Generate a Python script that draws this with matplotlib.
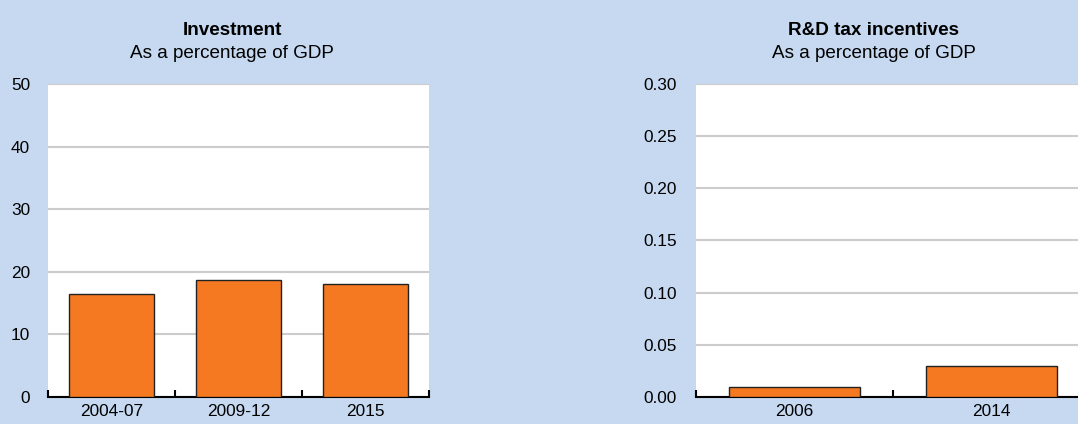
import matplotlib
matplotlib.use("Agg")
import matplotlib.pyplot as plt
import numpy as np

inv_categories = ["2004-07", "2009-12", "2015"]
inv_values = [16.5, 18.7, 18.1]
inv_ticks = [0, 10, 20, 30, 40, 50]

rd_categories = ["2006", "2014"]
rd_values = [0.01, 0.03]
rd_ticks = [0.00, 0.05, 0.10, 0.15, 0.20, 0.25, 0.30]

BG = "#C6D9F0"
ORANGE = "#F47920"
GRID = "#CCCCCC"

plt.rcParams['font.family'] = ['Liberation Sans', 'DejaVu Sans']

W, H = 1078, 424
fig = plt.figure(figsize=(W / 100, H / 100), dpi=100, facecolor=BG)

TICK_FS = 12.4
TITLE_FS = 13.6


def panel(rect, cats, vals, ticks, fmt, ypad):
    ax = fig.add_axes(rect)
    ax.set_facecolor("white")
    x = np.arange(len(cats))
    ax.bar(x, vals, width=0.67, color=ORANGE, edgecolor="#222222", linewidth=1.0, zorder=3)
    ax.set_xlim(-0.5, len(cats) - 0.5)
    ax.set_ylim(ticks[0], ticks[-1])
    ax.set_yticks(ticks)
    ax.set_yticklabels([fmt.format(t) for t in ticks], fontsize=TICK_FS)
    ax.yaxis.grid(True, color=GRID, linewidth=1.5, zorder=0)
    ax.set_axisbelow(True)
    for s in ["left", "right", "top"]:
        ax.spines[s].set_visible(False)
    ax.spines["bottom"].set_color("black")
    ax.spines["bottom"].set_linewidth(1.5)
    ax.tick_params(axis="y", length=0, pad=ypad)
    ax.set_xticks(x)
    ax.set_xticklabels(cats, fontsize=TICK_FS)
    ax.tick_params(axis="x", which="major", length=0, pad=5)
    ax.set_xticks(np.arange(len(cats) + 1) - 0.5, minor=True)
    ax.tick_params(axis="x", which="minor", direction="in", length=5, width=1.5, color="black")
    return ax


panel([48 / W, 1 - 397 / H, (429 - 48) / W, (397 - 84) / H],
      inv_categories, inv_values, inv_ticks, "{:.0f}", 13)
panel([696 / W, 1 - 397 / H, (1090 - 696) / W, (397 - 84) / H],
      rd_categories, rd_values, rd_ticks, "{:.2f}", 14)

fig.text(232 / W, 1 - 35 / H, "Investment", ha="center", va="baseline",
         fontsize=TITLE_FS, fontweight="bold")
fig.text(232 / W, 1 - 58 / H, "As a percentage of GDP", ha="center", va="baseline",
         fontsize=TITLE_FS)
fig.text(874 / W, 1 - 35 / H, "R&D tax incentives", ha="center", va="baseline",
         fontsize=TITLE_FS, fontweight="bold")
fig.text(874 / W, 1 - 58 / H, "As a percentage of GDP", ha="center", va="baseline",
         fontsize=TITLE_FS)

fig.savefig("out.png", dpi=100, facecolor=BG)
